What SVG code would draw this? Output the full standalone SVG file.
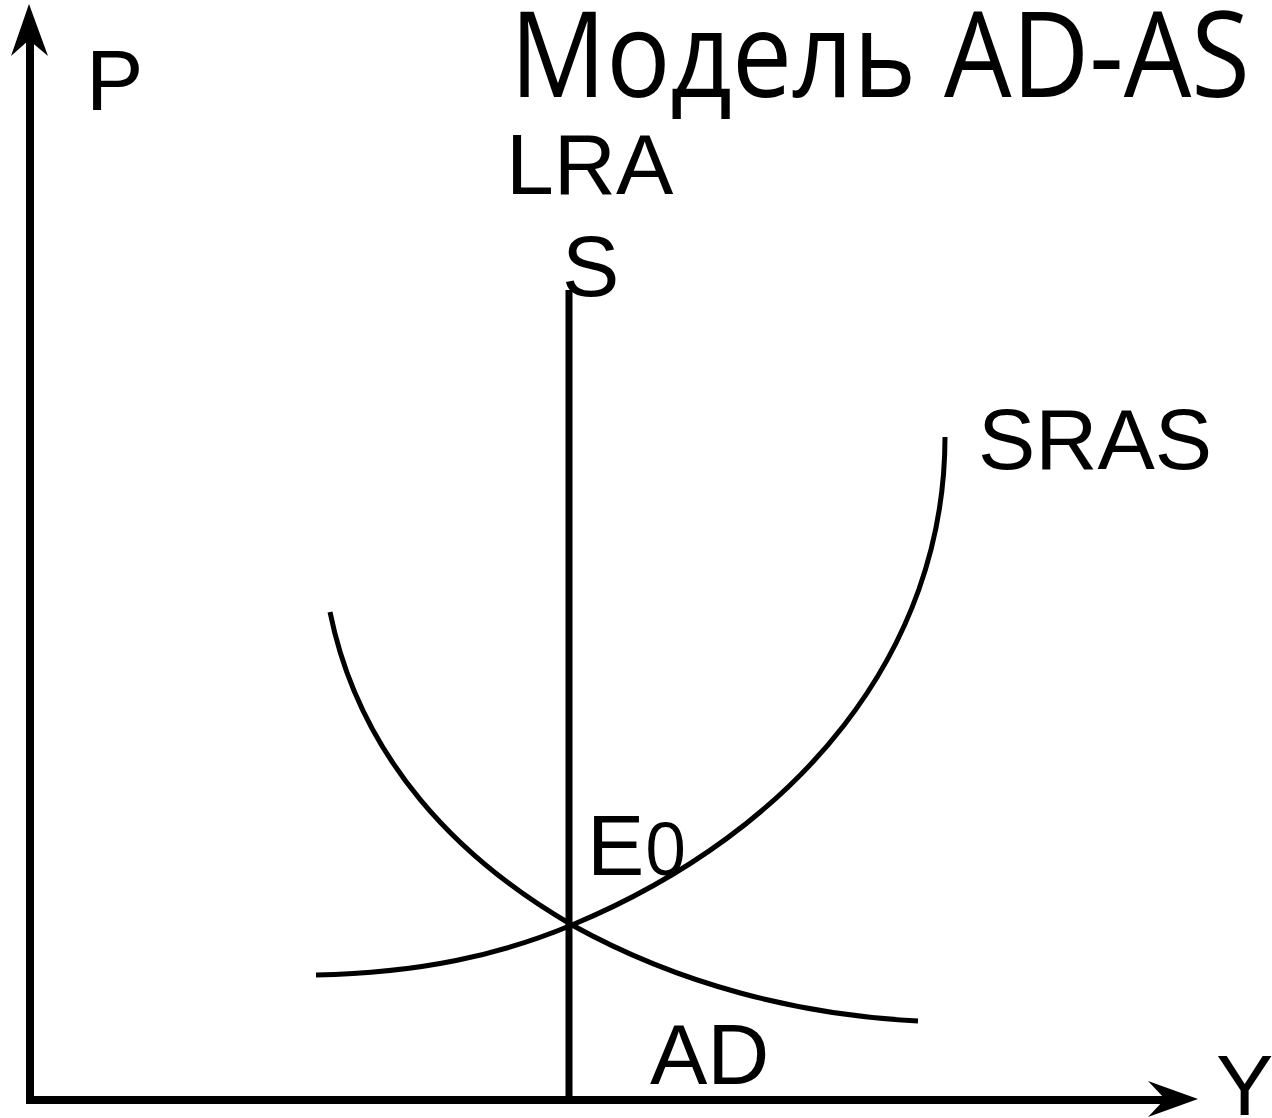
<svg xmlns="http://www.w3.org/2000/svg" width="1272" height="1118" viewBox="0 0 1272 1118">
<style>
.lbl{font-family:"Liberation Sans",Arial,sans-serif;font-size:86px;fill:#000}
.title{font-family:"Open Sans","Noto Sans",sans-serif;font-size:119px;fill:#000}
.axis{stroke:#000;stroke-width:8;fill:none}
.curve{stroke:#000;stroke-width:5;fill:none}
</style>
<rect width="1272" height="1118" fill="#fff"/>
<g id="title"><text class="title" x="510" y="97" textLength="740" lengthAdjust="spacingAndGlyphs">Модель AD-AS</text></g>
<g id="connectors">
<line class="axis" x1="30" y1="1104" x2="30" y2="40"/>
<polygon points="29,4 11,56 29,40 48,56" fill="#000"/>
<line class="axis" x1="26" y1="1100" x2="1170" y2="1100"/>
<polygon points="1198,1099 1148,1081 1165,1099 1148,1117" fill="#000"/>
<line class="axis" x1="569" y1="290" x2="569" y2="1100" style="stroke-width:7"/>
<path class="curve" d="M330,612 C360,760 460,860 572,925 C680,985 800,1015 918,1021"/>
<path class="curve" d="M316,975 C420,973 500,955 572,925 C800,830 945,650 945,437"/>
</g>
<g id="label-P"><text class="lbl" x="86" y="110">P</text></g>
<g id="label-LRAS"><text class="lbl" x="506" y="194">LRA</text><text class="lbl" x="562" y="296">S</text></g>
<g id="label-SRAS"><text class="lbl" x="978" y="469">SRAS</text></g>
<g id="label-E0"><text class="lbl" x="587" y="875">E<tspan style="font-family:'Open Sans',sans-serif;font-size:74px">0</tspan></text></g>
<g id="label-AD"><text class="lbl" x="650" y="1084">AD</text></g>
<g id="label-Y"><text class="lbl" x="1216" y="1115">Y</text></g>
</svg>
